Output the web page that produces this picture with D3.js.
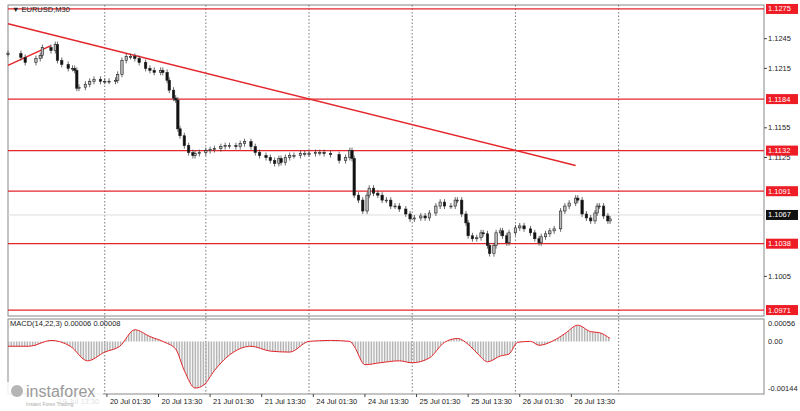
<!DOCTYPE html>
<html lang="en">
<head>
<meta charset="utf-8">
<title>EURUSD M30</title>
<script src="https://d3js.org/d3.v7.min.js"></script>
<style>
  body { margin: 0; background: white; font-family: 'Liberation Sans', sans-serif; }
  svg text { font-size: 7.5px; fill: #222; }
</style>
</head>
<body>
<div class="chart"></div>
<script>
// bar index (30-minute bars) and close prices
const bars = [0,6,8,13,15,16,20,22,23,25,28,30,31,32,33,36,38,40,43,45,47,50,51,53,55,57,59,61,64,66,68,71,72,74,75,77,78,79,80,82,84,86,87,89,92,94,96,99,101,103,106,108,110,113,115,117,120,122,124,126,127,129,131,133,136,138,140,143,145,147,150,154,157,159,160,161,163,165,167,168,170,172,174,176,178,180,182,185,187,189,192,194,196,199,201,203,206,208,209,211,213,214,216,218,220,221,223,224,226,227,229,230,232,233,236,238,240,243,245,247,248,250,252,254,257,259,261,264,265,267,269,271,273,274,275,277,279,280];
const closes = [1.1230,1.1226,1.1221,1.1225,1.1228,1.1236,1.1233,1.1239,1.1223,1.1219,1.1215,1.1215,1.1213,1.1195,1.1196,1.1199,1.1202,1.1204,1.1202,1.1202,1.1202,1.1203,1.1209,1.1223,1.1227,1.1227,1.1225,1.1221,1.1215,1.1213,1.1211,1.1213,1.1211,1.1203,1.1193,1.1185,1.1183,1.1154,1.1147,1.1137,1.1130,1.1127,1.1129,1.1130,1.1132,1.1133,1.1134,1.1136,1.1137,1.1137,1.1136,1.1139,1.1141,1.1136,1.1130,1.1127,1.1125,1.1122,1.1119,1.1124,1.1120,1.1125,1.1127,1.1127,1.1129,1.1129,1.1129,1.1130,1.1130,1.1129,1.1128,1.1122,1.1125,1.1132,1.1124,1.1087,1.1082,1.1071,1.1087,1.1094,1.1089,1.1087,1.1082,1.1082,1.1076,1.1076,1.1073,1.1068,1.1063,1.1064,1.1066,1.1064,1.1069,1.1076,1.1080,1.1076,1.1076,1.1082,1.1082,1.1068,1.1059,1.1046,1.1043,1.1044,1.1049,1.1048,1.1036,1.1028,1.1036,1.1049,1.1051,1.1046,1.1039,1.1049,1.1054,1.1056,1.1053,1.1049,1.1043,1.1039,1.1045,1.1048,1.1051,1.1053,1.1071,1.1076,1.1079,1.1084,1.1082,1.1068,1.1064,1.1061,1.1069,1.1076,1.1076,1.1066,1.1061,1.1063];

// MACD main line
const macdBars = [0,10,20,29,37,45,52,59,66,73,78,82,87,91,96,103,113,122,131,140,150,159,161,166,173,182,188,196,203,209,215,219,223,229,233,237,243,247,253,259,265,271,275,280];
const macdVals = [-0.00015,-0.00015,0.00003,-0.00015,-0.0006,-0.00033,-0.00015,0.00036,0.00015,-0.00003,-0.00024,-0.0009,-0.00144,-0.00135,-0.0009,-0.00042,-0.00015,-0.0003,-0.00033,0,0.00003,0,-0.00015,-0.00072,-0.00066,-0.0006,-0.00066,-0.00051,-0.00003,0.00009,-0.00015,-0.00042,-0.00063,-0.00045,-0.00039,-0.00003,0,-0.00012,0,0.00024,0.0005,0.0003,0.00027,0.00009];

const levels = [1.1275, 1.1184, 1.1132, 1.1091, 1.1038, 1.0971];
const lastPrice = 1.1067;
const priceTicks = [1.1245, 1.1215, 1.1155, 1.1125, 1.1005];
const trendLines = [[[0, 1.1260], [264, 1.1117]], [[0, 1.1218], [20, 1.1238]]];
const dateLabels = ["19 Jul 13:30","20 Jul 01:30","20 Jul 13:30","21 Jul 01:30","21 Jul 13:30","24 Jul 01:30","24 Jul 13:30","25 Jul 01:30","25 Jul 13:30","26 Jul 01:30","26 Jul 13:30"];
const dateBars = [22,46,70,94,118,142,166,190,214,238,262];
const gridBars = [45,92,140,188,236,284];

const width = 800, height = 411;
const left = 8, right = 764;

const svg = d3.select(".chart").append("svg").attr("width", width).attr("height", height);

const x = d3.scaleLinear().domain([0, 351.6]).range([left, right]);
const y = d3.scaleLinear().domain([1.0965, 1.1279]).range([316, 5]);
const ym = d3.scaleLinear().domain([-0.0015, 0.00066]).range([390, 320]);

// panel frames
svg.append("rect").attr("x", left).attr("y", 5).attr("width", right - left).attr("height", 311)
  .attr("fill", "none").attr("stroke", "#888");
svg.append("rect").attr("x", left).attr("y", 319).attr("width", right - left).attr("height", 75)
  .attr("fill", "none").attr("stroke", "#888");

// vertical dashed grid
gridBars.forEach(b => {
  svg.append("line").attr("x1", x(b)).attr("x2", x(b)).attr("y1", 5).attr("y2", 394)
    .attr("stroke", "#555").attr("stroke-width", 0.8).attr("stroke-dasharray", "1.5,2");
});

// last price line
svg.append("line").attr("x1", left).attr("x2", right).attr("y1", y(lastPrice)).attr("y2", y(lastPrice))
  .attr("stroke", "#ddd");

// price axis ticks
priceTicks.forEach(p => {
  svg.append("line").attr("x1", right).attr("x2", right + 3).attr("y1", y(p)).attr("y2", y(p)).attr("stroke", "#444");
  svg.append("text").attr("x", right + 4).attr("y", y(p) + 2.5).text(p.toFixed(4));
});

// level lines and labels
levels.forEach(p => {
  svg.append("line").attr("x1", left).attr("x2", right).attr("y1", y(p)).attr("y2", y(p))
    .attr("stroke", "#e3262a").attr("stroke-width", 1.3);
  svg.append("rect").attr("x", right + 2).attr("y", y(p) - 5).attr("width", 32).attr("height", 10).attr("fill", "#ee1c25");
  svg.append("text").attr("x", right + 4).attr("y", y(p) + 2.5).style("fill", "white").text(p.toFixed(4));
});
svg.append("rect").attr("x", right + 2).attr("y", y(lastPrice) - 5).attr("width", 32).attr("height", 10).attr("fill", "#111");
svg.append("text").attr("x", right + 4).attr("y", y(lastPrice) + 2.5).style("fill", "white").text(lastPrice.toFixed(4));

// trend lines
trendLines.forEach(l => {
  svg.append("line").attr("x1", x(l[0][0])).attr("y1", y(l[0][1])).attr("x2", x(l[1][0])).attr("y2", y(l[1][1]))
    .attr("stroke", "#e3262a").attr("stroke-width", 1.5);
});

// candles
const candles = bars.map((b, i) => ({ b, c: closes[i], o: i ? closes[i - 1] : closes[i] }));
const cg = svg.append("g");
candles.forEach(d => {
  const hi = Math.max(d.o, d.c) + 0.0003, lo = Math.min(d.o, d.c) - 0.0003;
  cg.append("line").attr("x1", x(d.b)).attr("x2", x(d.b)).attr("y1", y(hi)).attr("y2", y(lo))
    .attr("stroke", "#444").attr("stroke-width", 0.8);
  cg.append("rect").attr("x", x(d.b) - 1.2).attr("width", 2.4)
    .attr("y", y(Math.max(d.o, d.c))).attr("height", Math.max(0.8, Math.abs(y(d.o) - y(d.c))))
    .attr("fill", d.c >= d.o ? "#bbb" : "#111").attr("stroke", "#222").attr("stroke-width", 0.6);
});

svg.append("text").attr("x", 12).attr("y", 12).text("▼ EURUSD,M30");

// MACD panel
const defs = svg.append("defs");
defs.append("pattern").attr("id", "hatch").attr("patternUnits", "userSpaceOnUse")
  .attr("width", 1.6).attr("height", 4)
  .append("rect").attr("width", 0.8).attr("height", 4).attr("fill", "#aaa");
const macd = macdBars.map((b, i) => ({ b, v: macdVals[i] }));
svg.append("path").datum(macd)
  .attr("d", d3.area().x(d => x(d.b)).y0(ym(0)).y1(d => ym(d.v)).curve(d3.curveMonotoneX))
  .attr("fill", "url(#hatch)");
svg.append("path").datum(macd)
  .attr("d", d3.line().x(d => x(d.b)).y(d => ym(d.v)).curve(d3.curveMonotoneX))
  .attr("fill", "none").attr("stroke", "#e3262a").attr("stroke-width", 1);
svg.append("text").attr("x", 10).attr("y", 326).text("MACD(14,22,3) 0.00006 0.00008");
[0.00056, 0, -0.00144].forEach(v => {
  svg.append("text").attr("x", right + 4).attr("y", ym(v) + 2.5).text(v === 0 ? "0.00" : v.toFixed(5));
});

// date axis (first label sits under the logo)
dateBars.forEach((b, i) => {
  svg.append("line").attr("x1", x(b)).attr("x2", x(b)).attr("y1", 394).attr("y2", 397).attr("stroke", "#444");
  svg.append("text").attr("x", x(b) + 3).attr("y", 404).text(dateLabels[i]);
});

// logo
const lg = svg.append("g");
lg.append("rect").attr("x", 6).attr("y", 382).attr("width", 97).attr("height", 29).attr("fill", "white").attr("opacity", 0.85);
lg.append("circle").attr("cx", 17).attr("cy", 391).attr("r", 6).attr("fill", "#b5b5b5");
lg.append("text").attr("x", 26).attr("y", 397).style("font-size", "16px").style("fill", "#9a9a9a").text("instaforex");
lg.append("text").attr("x", 26).attr("y", 406).style("font-size", "5px").style("fill", "#aaa").text("Instant Forex Trading");
</script>
</body>
</html>
